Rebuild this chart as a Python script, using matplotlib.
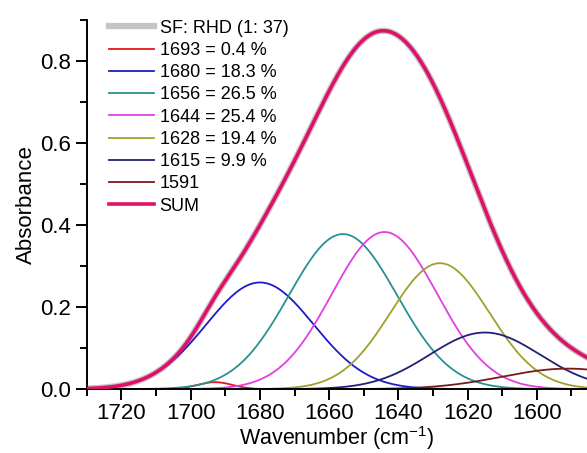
import matplotlib as mpl
mpl.use('Agg')
import matplotlib.pyplot as plt
from matplotlib.ticker import MultipleLocator
import numpy as np

plt.rcParams['font.family'] = ['Liberation Sans', 'DejaVu Sans']
plt.rcParams['mathtext.default'] = 'regular'

# band fit components (center, height, gaussian sigma)
centers = [1693, 1680, 1656, 1644, 1628, 1615, 1591]
heights = [0.017, 0.26, 0.378, 0.383, 0.307, 0.138, 0.05]
sigmas = [5.0, 15.5, 15.6, 15.2, 14.3, 16.0, 19.0]
labels = ['1693 = 0.4 %', '1680 = 18.3 %', '1656 = 26.5 %', '1644 = 25.4 %',
          '1628 = 19.4 %', '1615 = 9.9 %', '1591']
colors = ['#e8141a', '#1c1cc8', '#2a9090', '#e040e0', '#a0a030', '#202078', '#7a1a1a']

wn = np.linspace(1730, 1585, 700)

fig, ax = plt.subplots()
fig.set_size_inches(5.87, 4.53)
plt.subplots_adjust(left=0.148, right=1.0, bottom=0.141, top=0.956)

bands = []
for c, h, s in zip(centers, heights, sigmas):
  bands.append(h * np.exp(-(wn - c) ** 2 / (2 * s ** 2)))
total = np.sum(bands, axis=0)

ax.plot(wn, total, color='#c4c4c4', lw=4.5, label='SF: RHD (1: 37)', zorder=1)
for b, lab, col in zip(bands, labels, colors):
  ax.plot(wn, b, color=col, lw=1.3, label=lab, zorder=2)
ax.plot(wn, total, color='#e0106a', lw=2.6, label='SUM', zorder=3)

ax.set_xlim(1730, 1585.5)
ax.set_ylim(0, 0.9)
ax.xaxis.set_major_locator(MultipleLocator(20))
ax.xaxis.set_minor_locator(MultipleLocator(10))
ax.yaxis.set_major_locator(MultipleLocator(0.2))
ax.yaxis.set_minor_locator(MultipleLocator(0.1))
ax.yaxis.set_major_formatter(mpl.ticker.FormatStrFormatter('%.1f'))

for side in ['top', 'right']:
  ax.spines[side].set_visible(False)
for side in ['left', 'bottom']:
  ax.spines[side].set_linewidth(1.4)
ax.tick_params(which='major', length=8, width=1.4, labelsize=16, direction='out')
ax.tick_params(which='minor', length=5, width=1.4, direction='out')
ax.tick_params(axis='x', pad=2)

ax.set_xlabel('Wavenumber (cm$^{-1}$)', fontsize=15.5, labelpad=0)
ax.set_ylabel('Absorbance', fontsize=16, labelpad=2)

leg = ax.legend(loc='upper left', bbox_to_anchor=(0.03, 1.02), frameon=False,
                fontsize=13, handlelength=2.5, handletextpad=0.3, labelspacing=0.29,
                borderaxespad=0)

plt.savefig('out.png', dpi=100)
